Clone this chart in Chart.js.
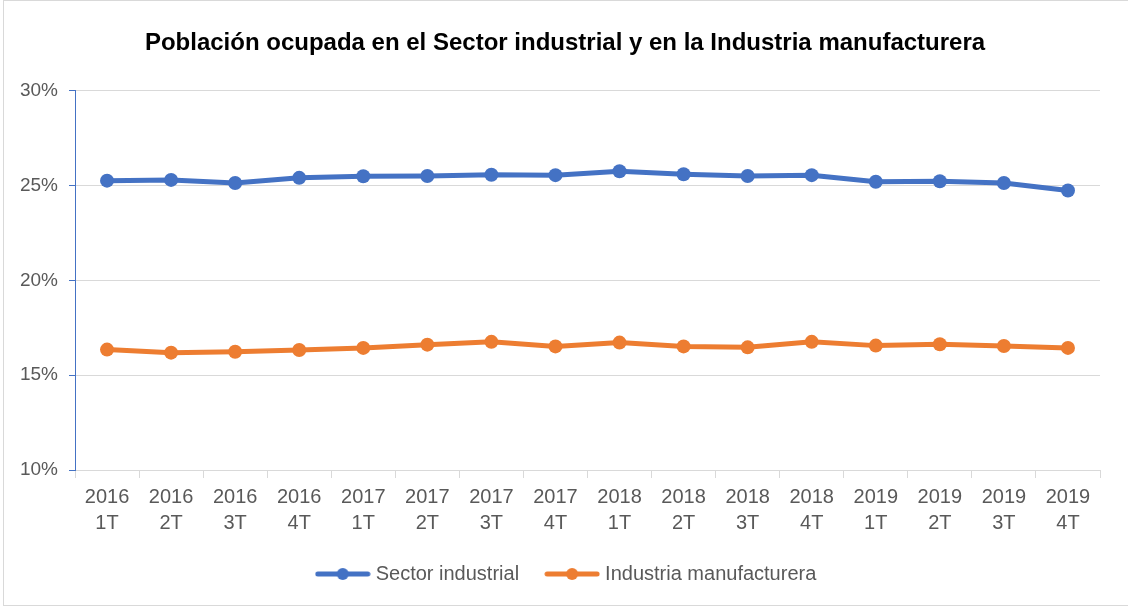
<!DOCTYPE html>
<html>
<head>
<meta charset="utf-8">
<script src="https://cdn.jsdelivr.net/npm/chart.js@4/dist/chart.umd.min.js"></script>
<style>
  html, body { margin: 0; padding: 0; background: #fff; }
  #wrap { position: relative; width: 1128px; height: 610px; }
  #frame { position: absolute; left: 3px; top: 0; width: 1130px; height: 606px; border: 1px solid #d9d9d9; box-sizing: border-box; }
  canvas { position: absolute; left: 0; top: 0; }
</style>
</head>
<body>
<div id="wrap">
  <div id="frame"></div>
  <canvas id="chart" width="1128" height="610"></canvas>
</div>
<script>
// quarters on the x axis (year, quarter)
const years = ['2016', '2016', '2016', '2016', '2017', '2017', '2017', '2017',
               '2018', '2018', '2018', '2018', '2019', '2019', '2019', '2019'];
const quarters = ['1T', '2T', '3T', '4T', '1T', '2T', '3T', '4T',
                  '1T', '2T', '3T', '4T', '1T', '2T', '3T', '4T'];

// percent of employed population
const sectorIndustrial = [25.26, 25.30, 25.14, 25.41, 25.49, 25.51, 25.57, 25.55,
                          25.76, 25.60, 25.51, 25.55, 25.20, 25.23, 25.14, 24.74];
const industriaManufacturera = [16.35, 16.19, 16.24, 16.33, 16.44, 16.61, 16.76, 16.52,
                                16.72, 16.52, 16.47, 16.76, 16.56, 16.63, 16.54, 16.44];

const seriesNames = ['Sector industrial', 'Industria manufacturera'];
const seriesColors = ['#4472C4', '#ED7D31'];

const labels = years.map((y, i) => [y, quarters[i]]);

// legend marker: short line with a dot in the middle, like Excel
function legendMarker(color) {
    const c = document.createElement('canvas');
    c.width = 56;
    c.height = 14;
    const ctx = c.getContext('2d');
    ctx.strokeStyle = color;
    ctx.lineWidth = 5;
    ctx.lineCap = 'round';
    ctx.beginPath();
    ctx.moveTo(3, 7);
    ctx.lineTo(53, 7);
    ctx.stroke();
    ctx.fillStyle = color;
    ctx.beginPath();
    ctx.arc(28, 7, 6, 0, Math.PI * 2);
    ctx.fill();
    return c;
}

const textColor = '#595959';
const gridColor = '#d9d9d9';

// Excel centres title and legend on the plot, nudge them right a bit
const boxShift = {
    id: 'boxShift',
    afterLayout(chart) {
        chart.legend.left += 18;
        chart.legend.right += 18;
        chart.titleBlock.left += 15;
        chart.titleBlock.right += 15;
    }
};

const data = {
    labels: labels,
    datasets: [sectorIndustrial, industriaManufacturera].map((vals, i) => ({
        label: seriesNames[i],
        data: vals,
        borderColor: seriesColors[i],
        backgroundColor: seriesColors[i],
        borderWidth: 5,
        pointRadius: 7,
        pointHoverRadius: 7,
        pointBackgroundColor: seriesColors[i],
        pointBorderWidth: 0,
        tension: 0,
        fill: false
    }))
};

const options = {
    responsive: false,
    animation: false,
    layout: { padding: { left: 0, right: 28, top: 0, bottom: 16 } },
    plugins: {
        title: {
            display: true,
            text: 'Población ocupada en el Sector industrial y en la Industria manufacturera',
            color: '#000',
            font: { family: 'Liberation Sans', size: 24, weight: 'bold' },
            padding: { top: 29, bottom: 33 }
        },
        legend: {
            position: 'bottom',
            labels: {
                color: textColor,
                font: { family: 'Liberation Sans', size: 20 },
                usePointStyle: true,
                pointStyleWidth: 46,
                padding: 30,
                generateLabels: (chart) => {
                    const items = Chart.defaults.plugins.legend.labels.generateLabels(chart);
                    items.forEach((it, i) => { it.pointStyle = legendMarker(seriesColors[i]); });
                    return items;
                }
            }
        },
        tooltip: { enabled: false }
    },
    scales: {
        x: {
            offset: true,
            grid: {
                offset: true,
                drawOnChartArea: false,
                drawTicks: true,
                tickLength: 8,
                color: gridColor
            },
            border: { color: gridColor },
            ticks: {
                color: textColor,
                font: { family: 'Liberation Sans', size: 20, lineHeight: 1.3 },
                padding: 6,
                maxRotation: 0,
                autoSkip: false
            },
            afterFit: (scale) => { scale.height = 64; }
        },
        y: {
            min: 10,
            max: 30,
            grid: {
                color: gridColor,
                tickColor: '#4472C4',
                tickLength: 6
            },
            border: { color: '#4472C4' },
            ticks: {
                stepSize: 5,
                color: textColor,
                font: { family: 'Liberation Sans', size: 19 },
                padding: 11,
                callback: (v) => v + '%'
            },
            afterFit: (scale) => { scale.width = 75; }
        }
    }
};

new Chart(document.getElementById('chart').getContext('2d'), {
    type: 'line',
    data: data,
    options: options,
    plugins: [boxShift]
});
</script>
</body>
</html>
